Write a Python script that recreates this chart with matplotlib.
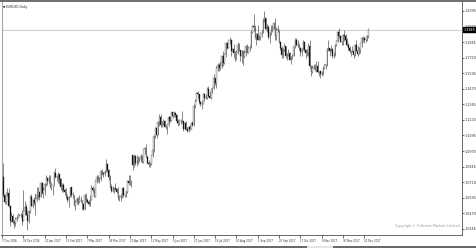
import matplotlib
matplotlib.use('Agg')
import matplotlib.pyplot as plt
import matplotlib.transforms as mtransforms
from matplotlib.patches import Rectangle
from matplotlib.lines import Line2D

# EURUSD daily bars, 7 Dec 2016 .. 28 Dec 2017 (one entry per trading day)
closes = [
    # Dec 2016
    1.0760, 1.0615, 1.0560, 1.0630, 1.0635, 1.0530, 1.0410, 1.0450, 1.0400, 1.0390,
    1.0425, 1.0435, 1.0455, 1.0455, 1.0455, 1.0410, 1.0490, 1.0520,
    # Jan 2017
    1.0460, 1.0405, 1.0485, 1.0605, 1.0530, 1.0575, 1.0555, 1.0585, 1.0615, 1.0640,
    1.0605, 1.0715, 1.0635, 1.0660, 1.0705, 1.0755, 1.0730, 1.0750, 1.0680, 1.0695,
    1.0695, 1.0795,
    # Feb
    1.0765, 1.0760, 1.0785, 1.0745, 1.0680, 1.0700, 1.0655, 1.0640, 1.0600, 1.0575,
    1.0605, 1.0680, 1.0615, 1.0615, 1.0540, 1.0560, 1.0585, 1.0560, 1.0580, 1.0575,
    # Mar
    1.0545, 1.0505, 1.0620, 1.0580, 1.0565, 1.0545, 1.0580, 1.0670, 1.0655, 1.0605,
    1.0730, 1.0765, 1.0740, 1.0745, 1.0810, 1.0795, 1.0785, 1.0800, 1.0865, 1.0815,
    1.0765, 1.0680, 1.0650,
    # Apr
    1.0670, 1.0670, 1.0665, 1.0645, 1.0590, 1.0600, 1.0610, 1.0670, 1.0615, 1.0615,
    1.0640, 1.0730, 1.0715, 1.0715, 1.0725, 1.0855, 1.0930, 1.0875, 1.0875, 1.0895,
    # May
    1.0905, 1.0930, 1.0885, 1.0985, 1.0995, 1.0925, 1.0875, 1.0865, 1.0865, 1.0935,
    1.0980, 1.1090, 1.1155, 1.1100, 1.1205, 1.1245, 1.1180, 1.1185, 1.1210, 1.1165,
    1.1165, 1.1185, 1.1245,
    # Jun
    1.1215, 1.1280, 1.1255, 1.1275, 1.1260, 1.1210, 1.1195, 1.1210, 1.1210, 1.1215,
    1.1150, 1.1195, 1.1145, 1.1130, 1.1165, 1.1150, 1.1195, 1.1180, 1.1335, 1.1375,
    1.1440, 1.1425,
    # Jul
    1.1360, 1.1350, 1.1350, 1.1425, 1.1400, 1.1400, 1.1465, 1.1415, 1.1400, 1.1470,
    1.1475, 1.1555, 1.1515, 1.1635, 1.1665, 1.1640, 1.1650, 1.1735, 1.1680, 1.1750,
    1.1835,
    # Aug
    1.1800, 1.1860, 1.1865, 1.1775, 1.1790, 1.1755, 1.1760, 1.1765, 1.1820, 1.1780,
    1.1730, 1.1770, 1.1725, 1.1760, 1.1815, 1.1760, 1.1800, 1.1800, 1.1925, 1.1975,
    1.1970, 1.1885, 1.1910,
    # Sep
    1.1860, 1.1885, 1.1915, 1.1920, 1.2025, 1.2035, 1.1950, 1.1965, 1.1885, 1.1920,
    1.1945, 1.1950, 1.1995, 1.1890, 1.1940, 1.1950, 1.1845, 1.1795, 1.1745, 1.1785,
    1.1815,
    # Oct
    1.1730, 1.1745, 1.1760, 1.1705, 1.1730, 1.1735, 1.1810, 1.1860, 1.1825, 1.1820,
    1.1795, 1.1765, 1.1790, 1.1845, 1.1785, 1.1760, 1.1760, 1.1815, 1.1650, 1.1605,
    1.1640, 1.1645,
    # Nov
    1.1620, 1.1655, 1.1605, 1.1610, 1.1590, 1.1595, 1.1640, 1.1665, 1.1665, 1.1795,
    1.1795, 1.1770, 1.1790, 1.1735, 1.1735, 1.1825, 1.1850, 1.1930, 1.1895, 1.1845,
    1.1845, 1.1905,
    # Dec
    1.1895, 1.1865, 1.1825, 1.1795, 1.1770, 1.1770, 1.1770, 1.1745, 1.1825, 1.1775,
    1.1750, 1.1785, 1.1835, 1.1875, 1.1875, 1.1860, 1.1860, 1.1890, 1.1945,
]

highs = [
    1.0790, 1.0874, 1.0625, 1.0645, 1.0670, 1.0670, 1.0540, 1.0480, 1.0465, 1.0420,
    1.0440, 1.0460, 1.0470, 1.0465, 1.0475, 1.0500, 1.0655, 1.0570,
    1.0545, 1.0490, 1.0495, 1.0615, 1.0625, 1.0585, 1.0605, 1.0630, 1.0685, 1.0685,
    1.0645, 1.0720, 1.0720, 1.0680, 1.0710, 1.0775, 1.0765, 1.0775, 1.0775, 1.0725,
    1.0700, 1.0810,
    1.0830, 1.0775, 1.0800, 1.0785, 1.0750, 1.0715, 1.0715, 1.0675, 1.0670, 1.0625,
    1.0610, 1.0680, 1.0680, 1.0640, 1.0620, 1.0575, 1.0600, 1.0600, 1.0620, 1.0610,
    1.0580, 1.0550, 1.0625, 1.0630, 1.0595, 1.0575, 1.0615, 1.0700, 1.0690, 1.0670,
    1.0735, 1.0780, 1.0775, 1.0760, 1.0820, 1.0825, 1.0805, 1.0820, 1.0905, 1.0875,
    1.0825, 1.0775, 1.0705,
    1.0690, 1.0680, 1.0715, 1.0675, 1.0680, 1.0620, 1.0625, 1.0680, 1.0680, 1.0625,
    1.0660, 1.0735, 1.0780, 1.0780, 1.0740, 1.0940, 1.0945, 1.0935, 1.0935, 1.0930,
    1.0920, 1.0950, 1.0935, 1.0990, 1.1000, 1.1025, 1.0935, 1.0900, 1.0885, 1.0935,
    1.0990, 1.1100, 1.1160, 1.1175, 1.1210, 1.1265, 1.1270, 1.1215, 1.1230, 1.1220,
    1.1185, 1.1185, 1.1250,
    1.1255, 1.1285, 1.1285, 1.1295, 1.1280, 1.1270, 1.1230, 1.1225, 1.1230, 1.1295,
    1.1215, 1.1200, 1.1210, 1.1160, 1.1175, 1.1185, 1.1200, 1.1215, 1.1350, 1.1390,
    1.1445, 1.1450,
    1.1430, 1.1370, 1.1380, 1.1440, 1.1435, 1.1425, 1.1485, 1.1490, 1.1450, 1.1480,
    1.1480, 1.1585, 1.1560, 1.1650, 1.1680, 1.1680, 1.1690, 1.1740, 1.1775, 1.1755,
    1.1845,
    1.1845, 1.1865, 1.1885, 1.1870, 1.1800, 1.1830, 1.1770, 1.1780, 1.1845, 1.1835,
    1.1785, 1.1780, 1.1785, 1.1780, 1.1825, 1.1830, 1.1815, 1.1825, 1.1940, 1.1985,
    1.2070, 1.1985, 1.1915,
    1.1980, 1.1905, 1.1925, 1.1940, 1.2035, 1.2092, 1.2040, 1.1990, 1.1985, 1.1925,
    1.1985, 1.1980, 1.2005, 1.2035, 1.1965, 1.1985, 1.1940, 1.1850, 1.1810, 1.1795,
    1.1835,
    1.1815, 1.1760, 1.1790, 1.1765, 1.1735, 1.1750, 1.1815, 1.1880, 1.1875, 1.1860,
    1.1835, 1.1805, 1.1795, 1.1860, 1.1850, 1.1790, 1.1790, 1.1835, 1.1865, 1.1660,
    1.1665, 1.1670,
    1.1670, 1.1690, 1.1690, 1.1615, 1.1610, 1.1610, 1.1655, 1.1670, 1.1670, 1.1800,
    1.1860, 1.1800, 1.1820, 1.1795, 1.1765, 1.1830, 1.1860, 1.1935, 1.1960, 1.1900,
    1.1880, 1.1910,
    1.1940, 1.1910, 1.1880, 1.1835, 1.1815, 1.1785, 1.1815, 1.1790, 1.1830, 1.1860,
    1.1810, 1.1805, 1.1840, 1.1885, 1.1890, 1.1885, 1.1875, 1.1905, 1.1960,
]

lows = [
    1.0715, 1.0600, 1.0545, 1.0545, 1.0610, 1.0520, 1.0365, 1.0400, 1.0385, 1.0352,
    1.0370, 1.0405, 1.0430, 1.0445, 1.0440, 1.0375, 1.0405, 1.0460,
    1.0455, 1.0340, 1.0395, 1.0475, 1.0525, 1.0510, 1.0535, 1.0455, 1.0570, 1.0585,
    1.0575, 1.0600, 1.0625, 1.0590, 1.0620, 1.0690, 1.0695, 1.0710, 1.0675, 1.0660,
    1.0620, 1.0690,
    1.0750, 1.0730, 1.0710, 1.0705, 1.0655, 1.0640, 1.0645, 1.0620, 1.0590, 1.0565,
    1.0520, 1.0605, 1.0600, 1.0590, 1.0525, 1.0495, 1.0545, 1.0540, 1.0555, 1.0565,
    1.0495, 1.0495, 1.0495, 1.0560, 1.0555, 1.0525, 1.0525, 1.0575, 1.0640, 1.0600,
    1.0600, 1.0710, 1.0720, 1.0715, 1.0730, 1.0775, 1.0765, 1.0770, 1.0800, 1.0805,
    1.0740, 1.0675, 1.0645,
    1.0640, 1.0630, 1.0660, 1.0630, 1.0580, 1.0570, 1.0570, 1.0590, 1.0605, 1.0605,
    1.0605, 1.0630, 1.0700, 1.0700, 1.0685, 1.0820, 1.0845, 1.0855, 1.0850, 1.0865,
    1.0880, 1.0885, 1.0875, 1.0875, 1.0950, 1.0915, 1.0870, 1.0840, 1.0840, 1.0860,
    1.0920, 1.0960, 1.1075, 1.1075, 1.1095, 1.1175, 1.1165, 1.1165, 1.1180, 1.1160,
    1.1150, 1.1110, 1.1170,
    1.1205, 1.1210, 1.1235, 1.1240, 1.1245, 1.1195, 1.1170, 1.1180, 1.1185, 1.1195,
    1.1130, 1.1140, 1.1140, 1.1120, 1.1120, 1.1140, 1.1145, 1.1175, 1.1175, 1.1315,
    1.1370, 1.1395,
    1.1350, 1.1335, 1.1310, 1.1345, 1.1375, 1.1385, 1.1385, 1.1405, 1.1395, 1.1390,
    1.1440, 1.1470, 1.1500, 1.1480, 1.1615, 1.1610, 1.1620, 1.1635, 1.1655, 1.1670,
    1.1725,
    1.1790, 1.1795, 1.1830, 1.1730, 1.1770, 1.1715, 1.1690, 1.1705, 1.1750, 1.1775,
    1.1690, 1.1680, 1.1660, 1.1720, 1.1735, 1.1755, 1.1755, 1.1775, 1.1795, 1.1920,
    1.1935, 1.1870, 1.1825,
    1.1860, 1.1860, 1.1865, 1.1885, 1.1915, 1.2010, 1.1945, 1.1925, 1.1870, 1.1835,
    1.1905, 1.1925, 1.1950, 1.1865, 1.1860, 1.1930, 1.1835, 1.1785, 1.1720, 1.1715,
    1.1770,
    1.1715, 1.1700, 1.1730, 1.1700, 1.1670, 1.1710, 1.1735, 1.1800, 1.1810, 1.1805,
    1.1785, 1.1730, 1.1730, 1.1780, 1.1770, 1.1720, 1.1735, 1.1735, 1.1640, 1.1575,
    1.1600, 1.1625,
    1.1615, 1.1605, 1.1600, 1.1575, 1.1555, 1.1575, 1.1580, 1.1630, 1.1630, 1.1655,
    1.1775, 1.1730, 1.1765, 1.1715, 1.1715, 1.1730, 1.1815, 1.1845, 1.1880, 1.1845,
    1.1825, 1.1825,
    1.1850, 1.1845, 1.1815, 1.1780, 1.1760, 1.1730, 1.1765, 1.1720, 1.1730, 1.1770,
    1.1730, 1.1750, 1.1760, 1.1805, 1.1845, 1.1840, 1.1845, 1.1855, 1.1880,
]

first_open = 1.0725
gap_opens = {98: 1.0935}  # weekend gap after the French election (24 Apr)

date_labels = ['7 Dec 2016', '29 Dec 2016', '20 Jan 2017', '13 Feb 2017', '7 Mar 2017',
               '29 Mar 2017', '20 Apr 2017', '12 May 2017', '5 Jun 2017', '27 Jun 2017',
               '19 Jul 2017', '10 Aug 2017', '1 Sep 2017', '25 Sep 2017', '17 Oct 2017',
               '8 Nov 2017', '30 Nov 2017', '22 Dec 2017']
price_ticks = [1.0345, 1.0470, 1.0595, 1.0720, 1.0845, 1.0970, 1.1095, 1.1220,
               1.1345, 1.1470, 1.1595, 1.1720, 1.1845, 1.1970, 1.2095]

assert len(closes) == len(highs) == len(lows)

opens = [first_open] + closes[:-1]
for i, o in gap_opens.items():
    opens[i] = o

W, H = 476, 248
fig = plt.figure(figsize=(W / 100, H / 100), dpi=100)
fig.patch.set_facecolor('white')

# axes box in pixels: x 1.5..462, y 1..235 (from top)
ax = fig.add_axes([1.5 / W, (H - 235) / H, (462 - 1.5) / W, 234 / H])
ax.set_facecolor('white')

px_per_bar = 1.331
ax.set_xlim(-0.5, (462 - 1.5) / px_per_bar - 0.5)
ax.set_ylim(1.0296, 1.2175)

n = len(closes)
xs = list(range(n))
ax.vlines(xs, lows, highs, color='#3a3a3a', linewidth=0.42, zorder=2)
for i in xs:
    o, c = opens[i], closes[i]
    bottom = min(o, c)
    height = max(abs(c - o), 0.00015)
    if c >= o:
        ax.bar(i, height, bottom=bottom, width=0.62, color='white',
               edgecolor='#404040', linewidth=0.22, zorder=3)
    else:
        ax.bar(i, height, bottom=bottom, width=0.62, color='#151515',
               edgecolor='#151515', linewidth=0.22, zorder=3)

# current price line + highlighted label
last = closes[-1]
ax.axhline(last, color='#cfcfcf', linewidth=0.8, zorder=1)
trans = mtransforms.blended_transform_factory(ax.transAxes, ax.transData)
ax.text(1.003, last, f'{last:.4f}', transform=trans, fontsize=2.4, color='white',
        va='center', ha='left', clip_on=False,
        bbox=dict(boxstyle='square,pad=0.15', fc='black', ec='black'))

# axes styling
ax.spines['top'].set_visible(False)
ax.spines['left'].set_color('#a8a8a8')
ax.spines['left'].set_linewidth(0.8)
ax.spines['right'].set_color('#505050')
ax.spines['right'].set_linewidth(0.6)
ax.spines['bottom'].set_color('#505050')
ax.spines['bottom'].set_linewidth(0.6)

ax.yaxis.tick_right()
ax.set_yticks(price_ticks)
ax.set_yticklabels([f'{p:.4f}' for p in price_ticks])
ax.tick_params(axis='y', direction='out', length=1.4, width=0.5, pad=0.6,
               labelsize=2.4, colors='#303030')

ax.set_xticks(range(0, 16 * len(date_labels), 16))
ax.set_xticklabels(date_labels)
ax.tick_params(axis='x', direction='out', length=2.0, width=0.5, pad=1.0,
               labelsize=1.9, colors='#303030')
for lab in ax.get_xticklabels():
    lab.set_horizontalalignment('left')

ax.text(0.003, 0.985, '\u25bc EURUSD,Daily', transform=ax.transAxes, fontsize=2.2,
        color='#202020', va='top', ha='left')
ax.text(0.996, 0.03, 'Copyright \u00a9 Fullerton Markets Limited', transform=ax.transAxes,
        fontsize=2.45, color='#9a9a9a', va='bottom', ha='right')

# window frame: dark top line, bottom tab strip
fig.add_artist(Line2D([0, 1], [1 - 0.6 / H, 1 - 0.6 / H], color='#555555',
                      linewidth=1.2, transform=fig.transFigure))
fig.add_artist(Rectangle((0, 0), 1, 2.5 / H, transform=fig.transFigure,
                         facecolor='#6a6a6a', edgecolor='none'))
fig.add_artist(Rectangle((307 / W, 0), 26 / W, 2.5 / H, transform=fig.transFigure,
                         facecolor='#e4e4e4', edgecolor='none'))

fig.savefig('out.png', dpi=100, facecolor='white')
